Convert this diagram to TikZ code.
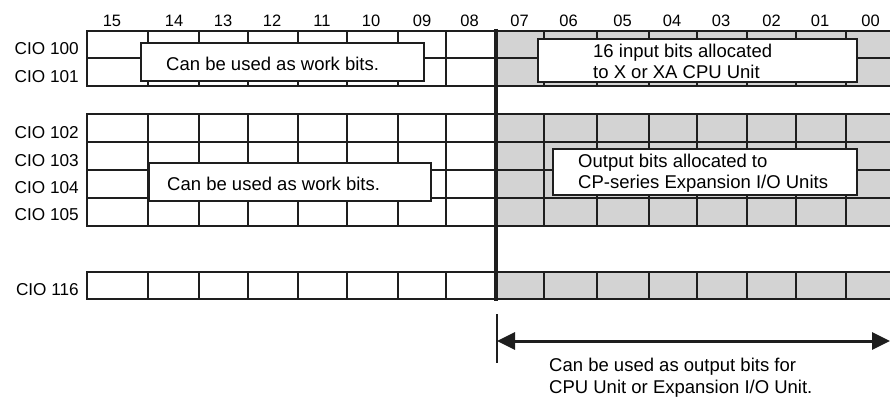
\documentclass[tikz,border=0pt]{standalone}
\usepackage{fontspec}
\setmainfont{Liberation Sans}
\usetikzlibrary{arrows.meta}
\definecolor{cellgray}{HTML}{D3D3D3}
\definecolor{ink}{HTML}{1E1E1E}
\tikzset{
  gridline/.style={draw=ink, line width=2, line cap=rect},
  sepline/.style={draw=ink, line width=4.5},
  infobox/.style={draw=ink, line width=1.8, fill=white, inner sep=0, anchor=north west},
  boxtext/.style={anchor=west, align=left, inner sep=0, font=\fontsize{18.5}{21}\selectfont},
  rowlabel/.style={anchor=east, inner sep=0, font=\fontsize{17.2}{20}\selectfont},
  collabel/.style={inner sep=0, font=\fontsize{16.5}{19}\selectfont},
  span/.style={draw=ink, line width=3, {Triangle[length=18,width=17]}-{Triangle[length=18,width=17]}},
  tick/.style={draw=ink, line width=1.3},
}
\begin{document}
\begin{tikzpicture}[x=1pt,y=-1pt]
\useasboundingbox (0,0) rectangle (890,396);

% gray fills (bits 07..00)
\fill[cellgray] (496,31) rectangle (896,86);
\fill[cellgray] (496,114) rectangle (896,226);
\fill[cellgray] (496,272) rectangle (896,299);

% grid lines
\foreach \top/\bot/\rows in {31/86/{31,58,86}, 114/226/{114,142,170,198,226}, 272/299/{272,299}}{
  \foreach \y in \rows { \draw[gridline] (87,\y) -- (896,\y); }
  \foreach \x in {87,148,199,248,298,347,398,446,544,597,649,697,747,796,846}{
    \draw[gridline] (\x,\top) -- (\x,\bot);
  }
}
% separator between bit 08 and bit 07
\coordinate (sepT) at (496,29);
\coordinate (sepB) at (496,301);
\draw[sepline] (sepT) -- (sepB);

% column numbers
\foreach \n/\x in {15/112,14/174,13/223,12/272,11/322,10/371,09/422,08/469.5,07/519.5,06/568.5,05/622.5,04/672,03/721,02/771.5,01/820,00/870.5}{
  \node[collabel] (c\n) at (\x,20.5) {\n};
}

% row labels
\node[rowlabel] (r100) at (79,49) {CIO 100};
\node[rowlabel] (r101) at (79,76.5) {CIO 101};
\node[rowlabel] (r102) at (79,132.5) {CIO 102};
\node[rowlabel] (r103) at (79,160.5) {CIO 103};
\node[rowlabel] (r104) at (79,188) {CIO 104};
\node[rowlabel] (r105) at (79,215) {CIO 105};
\node[rowlabel] (r116) at (79,289.5) {CIO 116};

% boxes
\node[infobox, minimum width=283, minimum height=38] (b1) at (140,42) {};
\node[boxtext] (t1) at ([xshift=26pt,yshift=-1.5pt]b1.west) {Can be used as work bits.};

\node[infobox, minimum width=319, minimum height=43] (b2) at (537,38) {};
\node[boxtext] (t2) at ([xshift=56pt,yshift=-1pt]b2.west) {16 input bits allocated\\to X or XA CPU Unit};

\node[infobox, minimum width=282, minimum height=38] (b3) at (148,162) {};
\node[boxtext] (t3) at ([xshift=19pt,yshift=-1.5pt]b3.west) {Can be used as work bits.};

\node[infobox, minimum width=304, minimum height=46] (b4) at (552,148) {};
\node[boxtext] (t4) at ([xshift=26pt,yshift=-1pt]b4.west) {Output bits allocated to\\CP-series Expansion I/O Units};

% span arrow
\coordinate (tickT) at (497,314);
\coordinate (tickB) at (497,363);
\draw[tick] (tickT) -- (tickB);
\coordinate (aL) at (497,341);
\coordinate (aR) at (890,341);
\draw[span] (aL) -- (aR);
\node[boxtext, font=\fontsize{18.5}{22}\selectfont] (t5) at (549,378) {Can be used as output bits for\\CPU Unit or Expansion I/O Unit.};
\end{tikzpicture}
\end{document}
